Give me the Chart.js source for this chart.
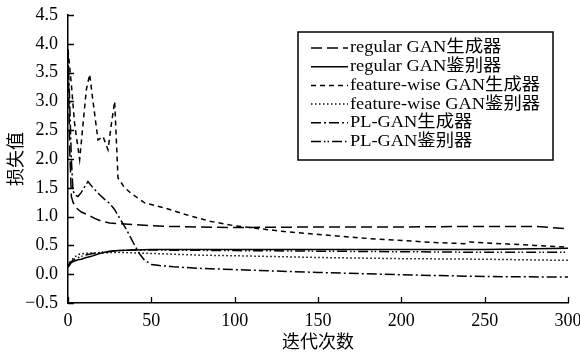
<!DOCTYPE html>
<html>
<head>
<meta charset="utf-8">
<script src="https://cdn.jsdelivr.net/npm/chart.js@4.4.1/dist/chart.umd.min.js"></script>
<style>
  html, body { margin: 0; padding: 0; background: #fff; }
  #wrap { width: 580px; height: 356px; }
</style>
</head>
<body>
<div id="wrap"><canvas id="myChart" width="580" height="356"></canvas></div>
<script>
// series labels (legend order)
const labels = ['regular GAN生成器', 'regular GAN鉴别器', 'feature-wise GAN生成器',
    'feature-wise GAN鉴别器', 'PL-GAN生成器', 'PL-GAN鉴别器'];

// iteration values (x) and loss values (y)
const regGenX = [0, 1, 2, 3, 5, 8, 12, 16, 20, 25, 30, 40, 50, 60, 80, 100, 150, 200, 250, 280, 300];
const regGenY = [3.9, 2.2, 1.35, 1.25, 1.15, 1.08, 1.03, 0.97, 0.92, 0.89, 0.88, 0.86, 0.84, 0.83, 0.82, 0.81, 0.82, 0.82, 0.83, 0.83, 0.79];

const regDisX = [0, 1, 2, 4, 6, 8, 10, 14, 18, 22, 26, 30, 40, 50, 100, 150, 200, 250, 300];
const regDisY = [0.12, 0.16, 0.2, 0.23, 0.25, 0.26, 0.28, 0.31, 0.35, 0.38, 0.4, 0.41, 0.42, 0.43, 0.43, 0.43, 0.43, 0.43, 0.45];

const fwGenX = [0, 1, 2, 4, 7, 9, 11, 13, 15, 18, 21, 24, 26, 28, 30, 34, 38, 46, 58, 70, 85, 100, 130, 180, 220, 238, 241, 260, 280, 300];
const fwGenY = [3.9, 3.6, 3.3, 2.6, 1.99, 2.6, 3.2, 3.47, 3.0, 2.33, 2.39, 2.16, 2.6, 3.0, 1.67, 1.5, 1.4, 1.24, 1.15, 1.04, 0.92, 0.84, 0.74, 0.62, 0.55, 0.53, 0.56, 0.53, 0.5, 0.47];

const fwDisX = [0, 1, 2, 4, 7, 10, 15, 20, 30, 40, 60, 80, 100, 150, 200, 250, 300];
const fwDisY = [0.14, 0.2, 0.24, 0.3, 0.35, 0.36, 0.37, 0.37, 0.38, 0.37, 0.35, 0.33, 0.32, 0.29, 0.27, 0.26, 0.24];

const plGenX = [0, 1, 2, 3, 4, 6, 8, 10, 12, 15, 19, 22, 25, 28, 31, 35, 40, 43, 46, 50, 55, 63, 80, 100, 150, 200, 250, 300];
const plGenY = [3.85, 3.0, 2.0, 1.45, 1.38, 1.35, 1.42, 1.52, 1.61, 1.5, 1.38, 1.3, 1.23, 1.12, 0.97, 0.78, 0.5, 0.35, 0.24, 0.17, 0.15, 0.13, 0.1, 0.08, 0.03, -0.01, -0.04, -0.05];

const plDisX = [0, 1, 2, 4, 7, 10, 15, 20, 30, 40, 50, 100, 150, 200, 250, 300];
const plDisY = [0.15, 0.2, 0.22, 0.26, 0.3, 0.33, 0.36, 0.38, 0.41, 0.42, 0.42, 0.41, 0.4, 0.39, 0.38, 0.38];

const serif = '"Liberation Serif", "Times New Roman", "Noto Sans CJK SC", serif';

function pts(xs, ys) {
    return xs.map((x, i) => ({ x: x, y: ys[i] }));
}

function line(label, xs, ys, dash) {
    return {
        label: label,
        data: pts(xs, ys),
        borderColor: '#000',
        borderWidth: 1.5,
        borderDash: dash,
        pointRadius: 0,
        tension: 0,
        fill: false
    };
}

// legend drawn as a framed box inside the plot
const boxLegend = {
    id: 'boxLegend',
    afterDraw(chart) {
        const ctx = chart.ctx;
        ctx.save();
        ctx.strokeStyle = '#000';
        ctx.lineWidth = 1.5;
        ctx.strokeRect(298, 32, 255, 128);
        ctx.font = '17px ' + serif;
        ctx.fillStyle = '#000';
        ctx.textBaseline = 'middle';
        chart.data.datasets.forEach((ds, i) => {
            const y = 48 + i * 18.7;
            ctx.beginPath();
            ctx.setLineDash(ds.borderDash);
            ctx.lineWidth = 1.5;
            ctx.moveTo(311, y);
            ctx.lineTo(348, y);
            ctx.stroke();
            ctx.setLineDash([]);
            // source text is a touch wider than Liberation Serif
            ctx.save();
            ctx.translate(350, y);
            ctx.scale(1.08, 1);
            ctx.fillText(ds.label, 0, 0);
            ctx.restore();
        });
        ctx.restore();
    }
};

// tick marks pointing into the plot
const innerTicks = {
    id: 'innerTicks',
    afterDraw(chart) {
        const ctx = chart.ctx;
        const xs = chart.scales.x, ys = chart.scales.y;
        const area = chart.chartArea;
        ctx.save();
        ctx.strokeStyle = '#000';
        ctx.lineWidth = 1.3;
        ctx.beginPath();
        xs.ticks.forEach(t => {
            const px = Math.round(xs.getPixelForValue(t.value)) + 0.5;
            ctx.moveTo(px, area.bottom);
            ctx.lineTo(px, area.bottom - 6);
        });
        ys.ticks.forEach(t => {
            const py = Math.round(ys.getPixelForValue(t.value)) + 0.5;
            ctx.moveTo(area.left, py);
            ctx.lineTo(area.left + 6, py);
        });
        ctx.stroke();
        ctx.restore();
    }
};

const config = {
    type: 'line',
    data: {
        datasets: [
            line(labels[0], regGenX, regGenY, [11, 5]),
            line(labels[1], regDisX, regDisY, []),
            line(labels[2], fwGenX, fwGenY, [5, 4]),
            line(labels[3], fwDisX, fwDisY, [1.5, 2.5]),
            line(labels[4], plGenX, plGenY, [10, 3, 2, 3]),
            line(labels[5], plDisX, plDisY, [10, 3, 1.5, 2, 1.5, 3])
        ]
    },
    options: {
        responsive: false,
        animation: false,
        layout: { padding: 0 },
        plugins: {
            legend: { display: false },
            tooltip: { enabled: false }
        },
        scales: {
            x: {
                type: 'linear',
                min: 0,
                max: 300,
                grid: { display: false, drawTicks: false },
                border: { display: true, color: '#000', width: 1.5 },
                ticks: {
                    stepSize: 50,
                    color: '#000',
                    padding: 7,
                    maxRotation: 0,
                    font: { family: serif, size: 18 }
                },
                title: {
                    display: true,
                    text: '迭代次数',
                    color: '#000',
                    padding: { top: 0, bottom: 2 },
                    font: { family: serif, size: 18 }
                },
                afterFit(scale) {
                    scale.height = 53;
                    scale.paddingLeft = 0;
                    scale.paddingRight = 12;
                }
            },
            y: {
                min: -0.5,
                max: 4.5,
                grid: { display: false, drawTicks: false },
                border: { display: true, color: '#000', width: 1.5 },
                ticks: {
                    stepSize: 0.5,
                    color: '#000',
                    padding: 10,
                    font: { family: serif, size: 18 },
                    callback: v => v.toFixed(1).replace('-', '−')
                },
                title: {
                    display: true,
                    text: '损失值',
                    color: '#000',
                    padding: { top: 6, bottom: 0 },
                    font: { family: serif, size: 18 }
                },
                afterFit(scale) {
                    scale.width = 68;
                    scale.paddingTop = 15;
                    scale.paddingBottom = 0;
                }
            }
        }
    },
    plugins: [innerTicks, boxLegend]
};

const myChart = new Chart(document.getElementById('myChart'), config);
</script>
</body>
</html>
